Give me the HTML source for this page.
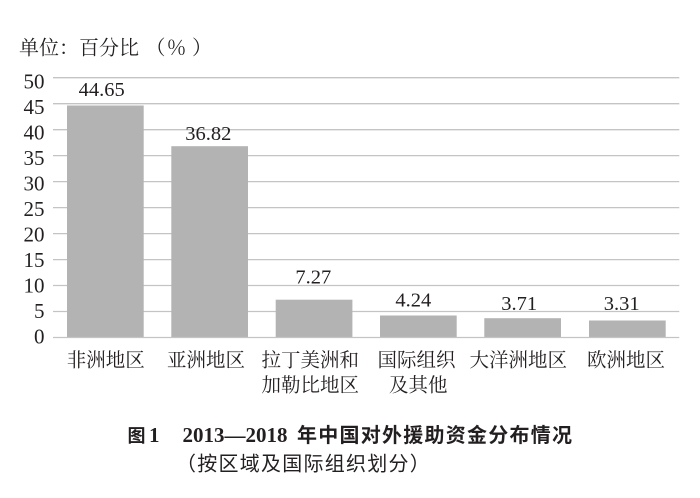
<!DOCTYPE html>
<html><head><meta charset="utf-8"><style>
html,body{margin:0;padding:0;background:#fff;}
svg{display:block;}
.serif{font-family:"Liberation Serif","Noto Serif CJK SC",serif;}
.cjk{font-family:"Liberation Serif","Noto Serif CJK SC",serif;}
.sans{font-family:"Liberation Sans","Noto Sans CJK SC",sans-serif;}
</style></head><body>
<svg width="700" height="498" viewBox="0 0 700 498" xmlns="http://www.w3.org/2000/svg">
<rect width="700" height="498" fill="#fff"/>
<text x="19" y="54.6" class="cjk" font-size="20" fill="#231f20">单位：百分比</text>
<text x="155.5" y="54.6" class="cjk" font-size="20" fill="#231f20" text-anchor="middle">（</text>
<text x="176.5" y="54.6" class="cjk" font-size="20" fill="#231f20" text-anchor="middle">％</text>
<text x="202" y="54.6" class="cjk" font-size="20" fill="#231f20" text-anchor="middle">）</text>
<g stroke="#c4c4c4" stroke-width="1.3">
<line x1="53" x2="679.3" y1="77.7" y2="77.7"/>
<line x1="53" x2="679.3" y1="103.7" y2="103.7"/>
<line x1="53" x2="679.3" y1="129.7" y2="129.7"/>
<line x1="53" x2="679.3" y1="155.6" y2="155.6"/>
<line x1="53" x2="679.3" y1="181.6" y2="181.6"/>
<line x1="53" x2="679.3" y1="207.6" y2="207.6"/>
<line x1="53" x2="679.3" y1="233.6" y2="233.6"/>
<line x1="53" x2="679.3" y1="259.6" y2="259.6"/>
<line x1="53" x2="679.3" y1="285.5" y2="285.5"/>
<line x1="53" x2="679.3" y1="311.5" y2="311.5"/>
</g>
<g fill="#b3b3b3">
<rect x="67" y="105.5" width="76.7" height="232"/>
<rect x="171.3" y="146.2" width="76.7" height="191.3"/>
<rect x="275.7" y="299.7" width="76.7" height="37.8"/>
<rect x="380" y="315.5" width="76.7" height="22"/>
<rect x="484.3" y="318.2" width="76.7" height="19.3"/>
<rect x="589" y="320.5" width="76.7" height="17"/>
</g>
<line x1="53" x2="679.3" y1="337.5" y2="337.5" stroke="#c4c4c4" stroke-width="1.3"/>
<g class="serif" font-size="21" fill="#231f20" text-anchor="end">
<text x="44.5" y="88.3">50</text>
<text x="44.5" y="113.8">45</text>
<text x="44.5" y="139.3">40</text>
<text x="44.5" y="164.8">35</text>
<text x="44.5" y="190.3">30</text>
<text x="44.5" y="215.8">25</text>
<text x="44.5" y="241.3">20</text>
<text x="44.5" y="266.8">15</text>
<text x="44.5" y="292.3">10</text>
<text x="44.5" y="317.8">5</text>
<text x="44.5" y="343.3">0</text>
</g>
<g class="serif" font-size="20.5" fill="#231f20" text-anchor="middle">
<text x="101.7" y="96">44.65</text>
<text x="208.3" y="140">36.82</text>
<text x="313.3" y="283.3">7.27</text>
<text x="413.3" y="306.7">4.24</text>
<text x="519.2" y="310">3.71</text>
<text x="621.7" y="310">3.31</text>
</g>
<g class="cjk" font-size="19.5" fill="#231f20" text-anchor="middle">
<text x="105.8" y="366.6">非洲地区</text>
<text x="206" y="366.6">亚洲地区</text>
<text x="310.3" y="366.6">拉丁美洲和</text>
<text x="310.3" y="391.6">加勒比地区</text>
<text x="416.5" y="366.6">国际组织</text>
<text x="418.3" y="391.6">及其他</text>
<text x="518.3" y="366.6">大洋洲地区</text>
<text x="626" y="366.6">欧洲地区</text>
</g>
<text x="127.5" y="442" class="sans" font-size="18" font-weight="bold" fill="#231f20">图</text>
<text x="149" y="442" class="serif" font-size="21" font-weight="bold" fill="#231f20">1</text>
<text x="182.5" y="442" class="serif" font-size="21" font-weight="bold" fill="#231f20">2013—2018</text>
<text x="297" y="442" class="sans" font-size="20" font-weight="bold" letter-spacing="1.25" fill="#231f20">年中国对外援助资金分布情况</text>
<text x="176" y="470.5" class="sans" font-size="20" letter-spacing="1.25" fill="#231f20">（按区域及国际组织划分）</text>
</svg>
</body></html>
